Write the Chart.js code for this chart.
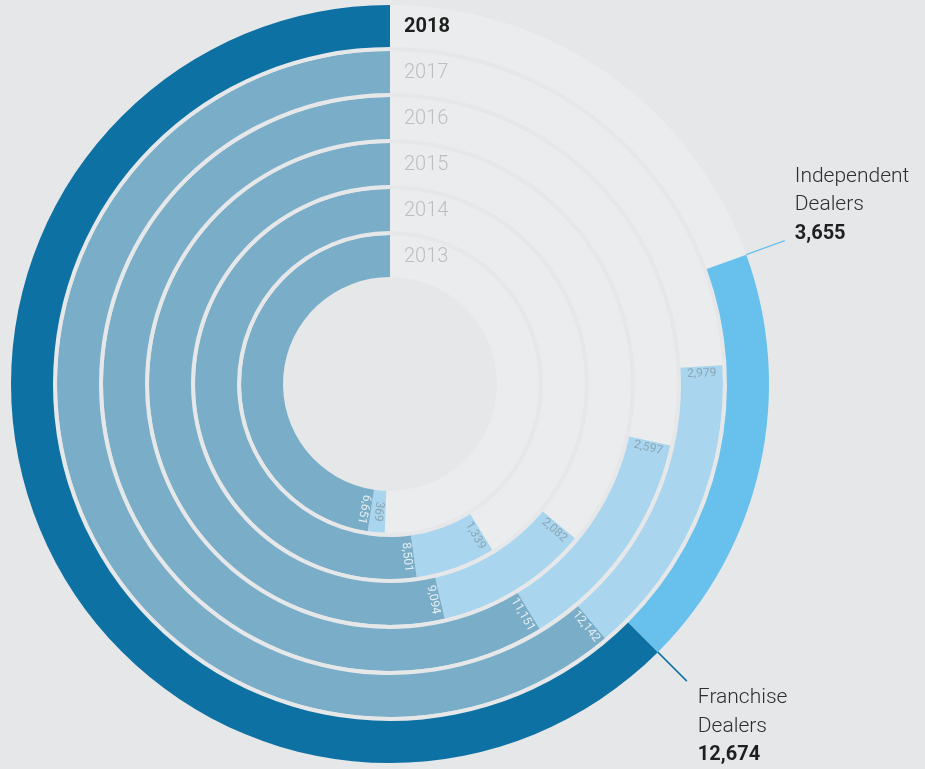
<!DOCTYPE html>
<html lang="en">
<head>
    <meta charset="UTF-8">
    <title>Franchise vs Independent Dealers 2013-2018</title>
    <script src="https://cdn.jsdelivr.net/npm/chart.js@4.4.1/dist/chart.umd.min.js"></script>
    <style>
        html, body {
            margin: 0;
            padding: 0;
            background-color: #e6e7e9;
        }
        canvas {
            display: block;
        }
    </style>
</head>
<body>
    <canvas id="ringChart" width="925" height="769"></canvas>

    <script>
        // Rings from outside to inside
        const years = ['2018', '2017', '2016', '2015', '2014', '2013'];
        const franchise = [12674, 12142, 11151, 9094, 8501, 6651];
        const independent = [3655, 2979, 2597, 2082, 1339, 369];
        const segmentNames = ['Remaining', 'Independent Dealers', 'Franchise Dealers'];

        // Angular scale used by the original graphic (degrees, counter-clockwise from 12 o'clock)
        const franchiseBaseDeg = 112.3;
        const franchiseDegPerUnit = 0.00889;
        const independentDegPerUnit = 0.01778;

        const BG = '#e6e7e9';
        const TRACK = '#ebeced';
        const FR_2018 = '#0e71a3';
        const IND_2018 = '#68c1ec';
        const FR = '#7aaec8';
        const IND = '#a9d6ee';

        const RING_WEIGHT = 42;
        const GAP_WEIGHT = 4;

        // Doughnut draws clockwise, so each ring is [track, independent, franchise]
        const datasets = [];
        years.forEach((year, i) => {
            if (i > 0) {
                datasets.push({
                    label: 'gap',
                    data: [1],
                    backgroundColor: [BG],
                    borderWidth: 0,
                    hoverOffset: 0,
                    weight: GAP_WEIGHT
                });
            }
            const fDeg = franchiseBaseDeg + franchise[i] * franchiseDegPerUnit;
            const iDeg = independent[i] * independentDegPerUnit;
            datasets.push({
                label: year,
                data: [360 - fDeg - iDeg, iDeg, fDeg],
                backgroundColor: [TRACK, i === 0 ? IND_2018 : IND, i === 0 ? FR_2018 : FR],
                borderWidth: 0,
                hoverOffset: 0,
                weight: RING_WEIGHT
            });
        });

        const fmt = v => v.toLocaleString('en-US');
        const FONT = 'Roboto, "Liberation Sans", Arial, sans-serif';

        // small value label rotated along the radius, just inside the segment end
        function radialLabel(ctx, arc, text, color) {
            const r = (arc.innerRadius + arc.outerRadius) / 2;
            const a = arc.startAngle + 7 / r;
            ctx.save();
            ctx.translate(arc.x + r * Math.cos(a), arc.y + r * Math.sin(a));
            ctx.rotate(a);
            ctx.font = '12px ' + FONT;
            ctx.fillStyle = color;
            ctx.textAlign = 'center';
            ctx.textBaseline = 'middle';
            ctx.fillText(text, 0, 0);
            ctx.restore();
        }

        function calloutLine(ctx, arc, color) {
            const a = arc.startAngle;
            const r0 = arc.outerRadius;
            const r1 = arc.outerRadius + 41;
            ctx.save();
            ctx.strokeStyle = color;
            ctx.lineWidth = 1.5;
            ctx.beginPath();
            ctx.moveTo(arc.x + r0 * Math.cos(a), arc.y + r0 * Math.sin(a));
            ctx.lineTo(arc.x + r1 * Math.cos(a), arc.y + r1 * Math.sin(a));
            ctx.stroke();
            ctx.restore();
            return { x: arc.x + r1 * Math.cos(a), y: arc.y + r1 * Math.sin(a) };
        }

        function calloutText(ctx, x, y, lines, value) {
            ctx.save();
            ctx.textAlign = 'left';
            ctx.textBaseline = 'alphabetic';
            ctx.fillStyle = '#2e2e2e';
            ctx.font = '300 21px ' + FONT;
            ctx.fillText(lines[0], x, y);
            ctx.fillText(lines[1], x, y + 28.5);
            ctx.fillStyle = '#1f1f1f';
            ctx.font = 'bold 20px ' + FONT;
            ctx.fillText(value, x, y + 57);
            ctx.restore();
        }

        const ringLabels = {
            id: 'ringLabels',
            afterDatasetsDraw(chart) {
                const ctx = chart.ctx;
                years.forEach((year, i) => {
                    const meta = chart.getDatasetMeta(i * 2);
                    const [track, ind, fr] = meta.data;
                    const rMid = (track.innerRadius + track.outerRadius) / 2;

                    // year at the start of each ring
                    ctx.save();
                    ctx.font = (i === 0 ? 'bold ' : '300 ') + '20px ' + FONT;
                    ctx.fillStyle = i === 0 ? '#1f1f1f' : '#bcbec1';
                    ctx.textAlign = 'left';
                    ctx.textBaseline = 'middle';
                    ctx.fillText(year, track.x + 14, track.y - rMid + 1);
                    ctx.restore();

                    if (i === 0) {
                        const pi = calloutLine(ctx, ind, IND_2018);
                        calloutText(ctx, pi.x + 10, pi.y - 59, ['Independent', 'Dealers'], fmt(independent[i]));
                        const pf = calloutLine(ctx, fr, FR_2018);
                        calloutText(ctx, pf.x + 11, pf.y + 22, ['Franchise', 'Dealers'], fmt(franchise[i]));
                    } else {
                        radialLabel(ctx, ind, fmt(independent[i]), '#8aa5b6');
                        radialLabel(ctx, fr, fmt(franchise[i]), '#e4eef4');
                    }
                });
            }
        };

        const ctx = document.getElementById('ringChart').getContext('2d');
        new Chart(ctx, {
            type: 'doughnut',
            data: {
                labels: segmentNames,
                datasets: datasets
            },
            options: {
                responsive: false,
                animation: false,
                events: [],
                cutout: 107,
                layout: {
                    padding: { left: 11, right: 156, top: 5, bottom: 6 }
                },
                plugins: {
                    legend: { display: false },
                    tooltip: { enabled: false }
                }
            },
            plugins: [ringLabels]
        });
    </script>
</body>
</html>
